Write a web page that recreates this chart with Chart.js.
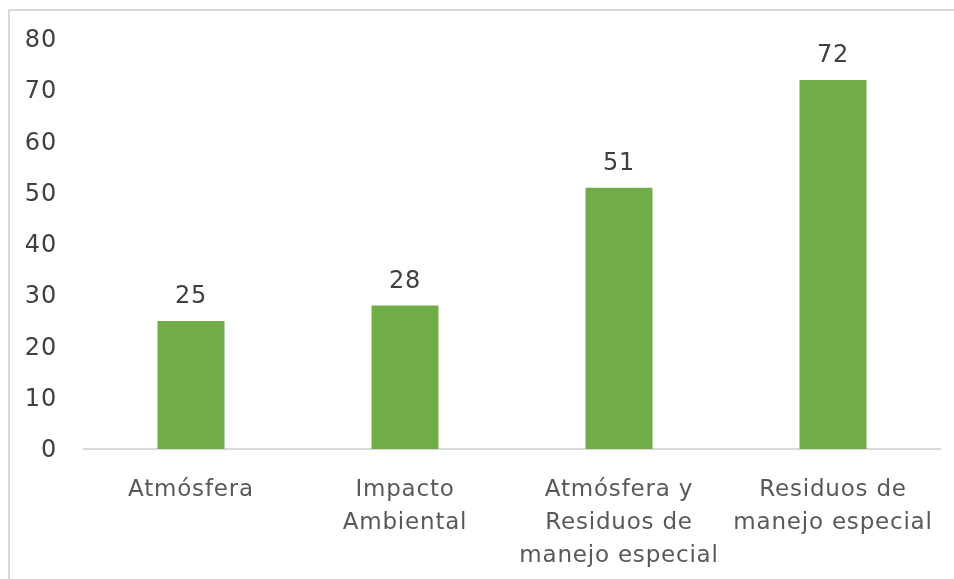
<!DOCTYPE html>
<html>
<head>
<meta charset="utf-8">
<script src="https://cdn.jsdelivr.net/npm/chart.js@4"></script>
<style>
  html, body { margin: 0; padding: 0; background: #fff; overflow: hidden; }
  canvas { display: block; }
</style>
</head>
<body>
<canvas id="bar-chart" width="954" height="579"></canvas>
<script>
const categories = [
    'Atmósfera',
    ['Impacto', 'Ambiental'],
    ['Atmósfera y', 'Residuos de', 'manejo especial'],
    ['Residuos de', 'manejo especial']
]
const values = [25, 28, 51, 72]
const yTicks = [0, 10, 20, 30, 40, 50, 60, 70, 80]

const barChartContext = document.getElementById('bar-chart').getContext('2d')

// light frame round the chart (only top and left edges show)
const frame = {
    id: 'frame',
    beforeDraw(chart) {
        const ctx = chart.ctx
        ctx.save()
        ctx.strokeStyle = '#d9d9d9'
        ctx.lineWidth = 2
        ctx.beginPath()
        ctx.moveTo(9, chart.height + 5)
        ctx.lineTo(9, 10)
        ctx.lineTo(chart.width + 5, 10)
        ctx.stroke()
        ctx.restore()
        ctx.letterSpacing = '0.8px'
    }
}

// value labels above each bar
const valueLabels = {
    id: 'valueLabels',
    afterDatasetsDraw(chart) {
        const ctx = chart.ctx
        const meta = chart.getDatasetMeta(0)
        ctx.save()
        ctx.font = '24px "DejaVu Sans"'
        ctx.fillStyle = '#404040'
        ctx.textAlign = 'center'
        ctx.textBaseline = 'bottom'
        meta.data.forEach((bar, i) => {
            ctx.fillText(values[i], bar.x, bar.y - 12)
        })
        ctx.restore()
    }
}

const config = {
    type: 'bar',
    data: {
        labels: categories,
        datasets: [{
            data: values,
            backgroundColor: '#70ad47',
            barPercentage: 0.313,
            categoryPercentage: 1
        }]
    },
    options: {
        responsive: false,
        animation: false,
        layout: { padding: { top: 39, right: 14, left: 0, bottom: 0 } },
        scales: {
            x: {
                grid: { display: false },
                border: { display: true, color: '#d9d9d9', width: 2 },
                ticks: {
                    color: '#595959',
                    font: { family: 'DejaVu Sans', size: 23, lineHeight: 1.43 },
                    padding: 17,
                    maxRotation: 0,
                    autoSkip: false
                },
                afterFit(scale) { scale.height = 130 }
            },
            y: {
                min: 0,
                max: 80,
                afterBuildTicks(scale) { scale.ticks = yTicks.map(v => ({ value: v })) },
                grid: { display: false },
                border: { display: false },
                ticks: {
                    color: '#404040',
                    font: { family: 'DejaVu Sans', size: 24 },
                    padding: 19,
                    labelOffset: 2
                },
                afterFit(scale) { scale.width = 84 }
            }
        },
        plugins: {
            legend: { display: false },
            tooltip: { enabled: false }
        }
    },
    plugins: [frame, valueLabels]
}

new Chart(barChartContext, config)
</script>
</body>
</html>
